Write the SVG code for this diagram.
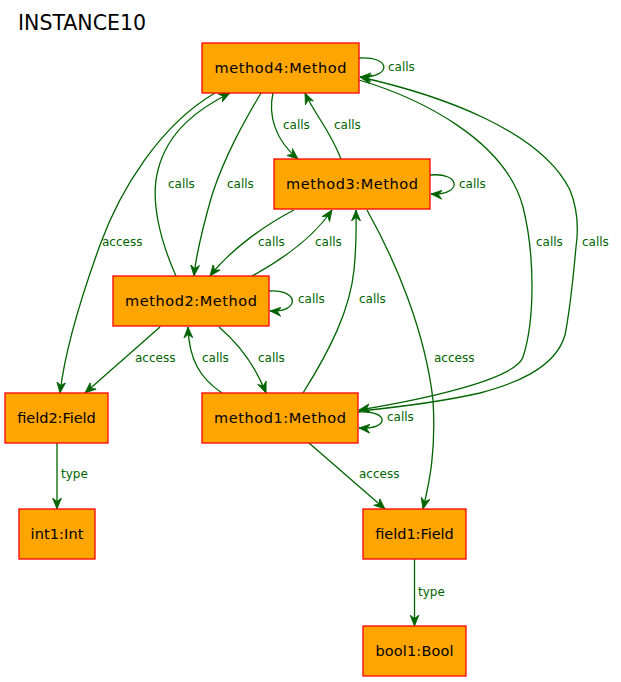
<svg xmlns="http://www.w3.org/2000/svg" width="621" height="682" viewBox="0 0 621 682">
<style>
.node rect{fill:#FFA500;stroke:#FF0000;stroke-width:1.3}
.node text{font-family:"DejaVu Sans",sans-serif;font-size:14.5px;fill:#000;text-anchor:middle}
.edge{fill:none;stroke:#006400;stroke-width:1.3;marker-end:url(#arr)}
.lbl{font-family:"DejaVu Sans",sans-serif;font-size:12px;fill:#006400}
.title{font-family:"DejaVu Sans",sans-serif;font-size:20.5px;fill:#000}
</style>
<defs>
<marker id="arr" markerUnits="userSpaceOnUse" markerWidth="12" markerHeight="10" refX="11" refY="5" orient="auto" viewBox="0 0 12 10">
<path d="M0,0.5 L11,5 L0,9.5 L3.5,5 z" fill="#006400" stroke="#006400" stroke-width="0.8"/>
</marker>
</defs>
<rect width="621" height="682" fill="#fff"/>
<text class="title" x="18" y="30">INSTANCE10</text>
<g id="connectors">
<path class="edge" d="M359,58 C392,56 392,78 360,77"/>
<path class="edge" d="M273,93 C268,115 275,140 298,159"/>
<path class="edge" d="M341,159 C330,130 315,115 305,93"/>
<path class="edge" d="M261,93 C245,120 225,155 212,195 C202,230 196,255 194,276"/>
<path class="edge" d="M176,276 C160,240 150,200 158,170 C168,130 200,108 230,93"/>
<path class="edge" d="M215,93 C160,125 120,190 100,245 C80,300 65,350 60,393"/>
<path class="edge" d="M430,175 C462,172 462,196 431,194"/>
<path class="edge" d="M294,210 C265,225 230,250 210,276"/>
<path class="edge" d="M252,276 C285,258 315,235 332,210"/>
<path class="edge" d="M303,393 C330,350 350,310 354,270 C357,240 356,225 356,210"/>
<path class="edge" d="M367,210 C395,260 425,330 433,400 C436,450 430,480 423,509"/>
<path class="edge" d="M269,291 C300,289 300,313 270,311"/>
<path class="edge" d="M160,327 L85,393"/>
<path class="edge" d="M222,393 C200,378 189,360 188,327"/>
<path class="edge" d="M219,327 C240,345 255,365 266,393"/>
<path class="edge" d="M359,80 C420,98 505,140 523,207 C535,255 535,320 523,357 C515,380 420,400 359,410"/>
<path class="edge" d="M359,411 C400,407 440,402 480,393 C510,385 555,370 565,335 C570,310 573,280 576,247 C577,240 580,215 570,190 C540,130 440,95 360,77"/>
<path class="edge" d="M358,412 C390,410 390,430 359,428"/>
<path class="edge" d="M309,443 L385,509"/>
<path class="edge" d="M57,443 L57,509"/>
<path class="edge" d="M414.5,559 L414.5,626"/>
<text class="lbl" x="388" y="71">calls</text>
<text class="lbl" x="283" y="129">calls</text>
<text class="lbl" x="334" y="129">calls</text>
<text class="lbl" x="168" y="188">calls</text>
<text class="lbl" x="227" y="188">calls</text>
<text class="lbl" x="459" y="188">calls</text>
<text class="lbl" x="102" y="246">access</text>
<text class="lbl" x="258" y="246">calls</text>
<text class="lbl" x="315" y="246">calls</text>
<text class="lbl" x="536" y="246">calls</text>
<text class="lbl" x="582" y="246">calls</text>
<text class="lbl" x="298" y="303">calls</text>
<text class="lbl" x="359" y="303">calls</text>
<text class="lbl" x="135" y="362">access</text>
<text class="lbl" x="202" y="362">calls</text>
<text class="lbl" x="258" y="362">calls</text>
<text class="lbl" x="434" y="362">access</text>
<text class="lbl" x="387" y="421">calls</text>
<text class="lbl" x="61" y="478">type</text>
<text class="lbl" x="359" y="478">access</text>
<text class="lbl" x="418" y="596">type</text>
</g>
<g id="method4" class="node"><rect x="202" y="43" width="157" height="50"/><text x="280.5" y="73" textLength="132" lengthAdjust="spacing">method4:Method</text></g>
<g id="method3" class="node"><rect x="274" y="159" width="156" height="50"/><text x="352" y="189" textLength="132" lengthAdjust="spacing">method3:Method</text></g>
<g id="method2" class="node"><rect x="113" y="276" width="156" height="50"/><text x="191" y="306" textLength="132" lengthAdjust="spacing">method2:Method</text></g>
<g id="field2" class="node"><rect x="5" y="393" width="103" height="50"/><text x="56.5" y="423" textLength="78.5" lengthAdjust="spacing">field2:Field</text></g>
<g id="method1" class="node"><rect x="202" y="393" width="156" height="50"/><text x="280" y="423" textLength="132" lengthAdjust="spacing">method1:Method</text></g>
<g id="int1" class="node"><rect x="19" y="509" width="76" height="50"/><text x="57" y="539" textLength="53" lengthAdjust="spacing">int1:Int</text></g>
<g id="field1" class="node"><rect x="363" y="509" width="103" height="50"/><text x="414.5" y="539" textLength="78.5" lengthAdjust="spacing">field1:Field</text></g>
<g id="bool1" class="node"><rect x="363" y="626" width="103" height="50"/><text x="414.5" y="656" textLength="78" lengthAdjust="spacing">bool1:Bool</text></g>
</svg>
